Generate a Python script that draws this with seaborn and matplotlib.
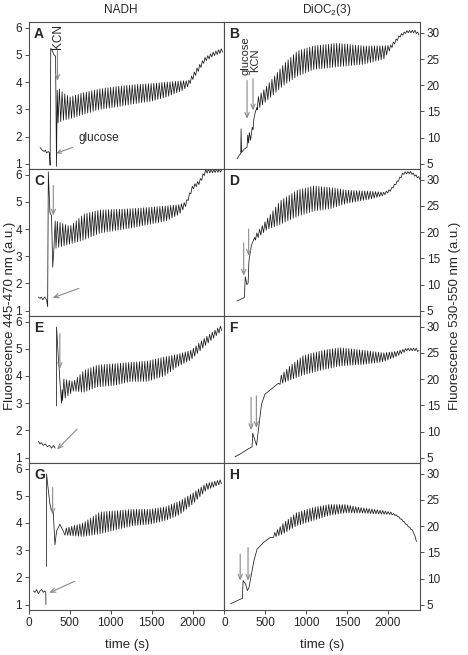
import numpy as np
import pandas as pd
import matplotlib
matplotlib.use("Agg")
import matplotlib.pyplot as plt
import seaborn as sns

# oscillation period (s)
PERIOD = 33

# ---- values ----
# each panel: hand-read start/transient points, then envelope (low / high) of the oscillating part
A_pre_t = [135, 160, 185, 200, 215, 235, 250, 258, 266, 285, 305, 325, 336, 345]
A_pre_y = [1.6, 1.5, 1.45, 1.5, 1.4, 1.45, 1.4, 0.95, 5.25, 5.15, 5.0, 4.95, 0.9, 3.7]
A_env_t = [355, 420, 500, 650, 866, 1100, 1270, 1500, 1680, 1880, 1950, 2050, 2150, 2250, 2370]
A_lo = [2.5, 2.6, 2.65, 2.8, 3.0, 3.1, 3.2, 3.3, 3.45, 3.7, 3.85, 4.3, 4.75, 4.95, 5.1]
A_hi = [3.8, 3.6, 3.45, 3.6, 3.75, 3.85, 3.9, 3.95, 4.0, 4.05, 4.05, 4.5, 4.9, 5.1, 5.25]

B_pre_t = [155, 180, 200, 204, 210, 240, 277, 285, 295, 305, 320, 340, 350, 360, 380, 400]
B_pre_y = [6.0, 6.6, 7.0, 11.7, 7.2, 7.8, 8.2, 10.5, 9.0, 11.0, 9.5, 12.0, 11.5, 13.5, 15.0, 15.8]
B_env_t = [400, 550, 725, 890, 1090, 1380, 1700, 1950, 2030, 2150, 2230, 2330, 2395]
B_lo = [15.3, 17.5, 20.0, 21.7, 23.0, 23.5, 24.0, 25.0, 26.8, 29.2, 30.0, 30.0, 29.4]
B_hi = [17.5, 20.5, 24.0, 26.5, 27.5, 28.0, 27.5, 27.5, 27.6, 29.7, 30.4, 30.5, 29.8]

C_pre_t = [115, 135, 150, 170, 190, 205, 215, 228, 236, 256, 275, 290, 305, 320]
C_pre_y = [1.5, 1.45, 1.5, 1.4, 1.5, 1.45, 1.4, 1.15, 6.1, 4.6, 4.5, 2.6, 3.3, 4.3]
C_env_t = [330, 500, 670, 866, 1270, 1680, 1840, 1920, 2000, 2085, 2160, 2370]
C_lo = [3.3, 3.45, 3.6, 3.85, 4.05, 4.3, 4.55, 4.85, 5.45, 5.65, 6.05, 6.1]
C_hi = [4.3, 4.1, 4.55, 4.7, 4.75, 4.85, 4.9, 5.0, 5.6, 5.8, 6.2, 6.2]

D_pre_t = [155, 200, 236, 245, 255, 275, 290, 300, 330, 370]
D_pre_y = [6.9, 7.2, 7.5, 7.6, 11.5, 10.0, 10.3, 14.5, 17.5, 19.0]
D_env_t = [380, 520, 685, 890, 1090, 1300, 1500, 1785, 1950, 2030, 2110, 2190, 2275, 2395]
D_lo = [18.5, 20.5, 21.5, 23.0, 24.0, 24.5, 25.5, 26.3, 27.0, 27.8, 29.3, 31.0, 31.2, 30.0]
D_hi = [19.5, 22.5, 26.0, 28.0, 28.8, 28.5, 28.0, 27.8, 27.6, 28.2, 29.7, 31.5, 31.6, 30.4]

E_base_t = [115, 135, 150, 175, 200, 225, 250, 275, 300, 320]
E_base_y = [1.6, 1.5, 1.55, 1.45, 1.5, 1.4, 1.45, 1.35, 1.45, 1.35]
E_pre_t = [337, 337, 358, 368, 378, 398, 405]
E_pre_y = [2.9, 5.8, 4.7, 4.3, 3.8, 3.0, 3.5]
E_env_t = [410, 545, 670, 835, 1040, 1245, 1450, 1655, 1820, 1985, 2150, 2370]
E_lo = [3.1, 3.45, 3.4, 3.6, 3.65, 3.8, 3.8, 4.0, 4.35, 4.6, 5.1, 5.7]
E_hi = [3.9, 3.8, 4.2, 4.4, 4.45, 4.5, 4.55, 4.7, 4.8, 4.95, 5.4, 5.9]

F_pre_t = [130, 200, 270, 338, 346, 372, 393, 454, 495, 597, 660]
F_pre_y = [5.2, 5.8, 6.5, 7.1, 9.7, 8.4, 7.4, 15.2, 17.1, 18.4, 19.2]
F_env_t = [680, 800, 965, 1210, 1415, 1700, 1945, 2105, 2230, 2350, 2395]
F_lo = [19.0, 19.8, 20.8, 21.8, 22.5, 22.8, 23.3, 24.3, 25.4, 25.4, 24.9]
F_hi = [20.5, 22.5, 24.5, 25.5, 26.0, 25.5, 25.0, 25.3, 25.9, 25.9, 25.2]

G_base_t = [53, 73, 93, 114, 134, 154, 175, 195, 205, 207]
G_base_y = [1.5, 1.45, 1.55, 1.4, 1.5, 1.55, 1.45, 1.5, 1.45, 1.0]
G_pre_t = [215, 215, 236, 256, 276, 297, 317, 337, 378, 419]
G_pre_y = [2.4, 5.8, 5.2, 4.7, 4.45, 4.4, 3.2, 3.7, 3.95, 3.7]
G_env_t = [440, 663, 866, 1069, 1272, 1476, 1679, 1841, 2004, 2167, 2360]
G_lo = [3.55, 3.5, 3.6, 3.75, 3.9, 3.95, 4.1, 4.3, 4.7, 5.2, 5.45]
G_hi = [3.8, 4.0, 4.4, 4.45, 4.5, 4.5, 4.6, 4.8, 5.1, 5.45, 5.6]

H_pre_t = [75, 120, 160, 200, 220, 229, 261, 281, 301, 361, 400, 480, 560]
H_pre_y = [5.2, 5.5, 5.8, 6.1, 6.2, 9.6, 8.9, 7.7, 8.3, 13.4, 15.6, 16.9, 17.8]
H_env_t = [600, 718, 878, 1077, 1276, 1475, 1673, 1872, 2031, 2110, 2190, 2310, 2350]
H_lo = [17.8, 18.5, 20.0, 21.0, 22.0, 22.5, 22.5, 22.3, 22.2, 21.9, 20.8, 18.9, 17.0]
H_hi = [18.5, 20.5, 22.5, 23.5, 24.1, 24.1, 23.5, 23.1, 22.7, 22.1, 21.0, 19.1, 17.2]

NADH_TICKS = [1, 2, 3, 4, 5, 6]
DIOC_TICKS = [5, 10, 15, 20, 25, 30]
TIME_TICKS = [0, 500, 1000, 1500, 2000]


def zigzag(t_env, lo, hi):
    # trace jumps between the low and high envelope every half period
    tt = np.arange(t_env[0], t_env[-1], PERIOD / 2)
    lo_i = np.interp(tt, t_env, lo)
    hi_i = np.interp(tt, t_env, hi)
    return tt, np.where(np.arange(len(tt)) % 2 == 0, lo_i, hi_i)


def build(pre_t, pre_y, env_t, lo, hi, base_t=None, base_y=None):
    zt, zv = zigzag(env_t, lo, hi)
    t = list(pre_t) + list(zt)
    v = list(pre_y) + list(zv)
    df = pd.DataFrame({"t": t, "v": v, "seg": 1})
    if base_t is not None:
        df = pd.concat([pd.DataFrame({"t": base_t, "v": base_y, "seg": 0}), df])
    return df


panels = {
    "A": build(A_pre_t, A_pre_y, A_env_t, A_lo, A_hi),
    "B": build(B_pre_t, B_pre_y, B_env_t, B_lo, B_hi),
    "C": build(C_pre_t, C_pre_y, C_env_t, C_lo, C_hi),
    "D": build(D_pre_t, D_pre_y, D_env_t, D_lo, D_hi),
    "E": build(E_pre_t, E_pre_y, E_env_t, E_lo, E_hi, E_base_t, E_base_y),
    "F": build(F_pre_t, F_pre_y, F_env_t, F_lo, F_hi),
    "G": build(G_pre_t, G_pre_y, G_env_t, G_lo, G_hi, G_base_t, G_base_y),
    "H": build(H_pre_t, H_pre_y, H_env_t, H_lo, H_hi),
}

# vertical addition arrows (x, y_start, y_end) and glucose pointers (tail -> tip)
down_arrows = {
    "A": [(348, 5.15, 4.05)],
    "B": [(277, 20.9, 13.6), (350, 21.2, 15.2)],
    "C": [(297, 5.6, 4.5)],
    "D": [(236, 18.0, 11.7), (297, 20.6, 15.5)],
    "E": [(377, 5.55, 4.26)],
    "F": [(326, 16.5, 10.3), (391, 16.8, 10.7)],
    "G": [(289, 5.3, 4.3)],
    "H": [(193, 14.6, 9.6), (289, 15.9, 9.6)],
}
glucose_ptr = {
    "C": ((610, 1.82), (289, 1.47)),
    "E": ((589, 2.05), (343, 1.30)),
    "G": ((561, 1.86), (248, 1.43)),
}

sns.set_style("ticks")
plt.rcParams["font.family"] = ["Liberation Sans", "DejaVu Sans"]
plt.rcParams["mathtext.fontset"] = "custom"
plt.rcParams["mathtext.rm"] = "Liberation Sans"

fig, axes = plt.subplots(4, 2, figsize=(4.68, 6.55), dpi=100, sharex=True)
plt.subplots_adjust(left=0.062, right=0.897, top=0.966, bottom=0.0687, hspace=0, wspace=0)

arrow_kw = dict(arrowstyle="->,head_length=0.35,head_width=0.15", color="#8a8a8a", lw=0.8,
                shrinkA=0, shrinkB=0)
spine_col = "#4d4d4d"

for i, letter in enumerate("ABCDEFGH"):
    ax = axes[i // 2, i % 2]
    sns.lineplot(data=panels[letter], x="t", y="v", units="seg", estimator=None, sort=False,
                 color="#1a1a1a", lw=0.55, ax=ax, legend=False)
    ax.set_xlim(0, 2390)
    ax.set_xticks(TIME_TICKS)
    if i % 2 == 0:
        ax.set_ylim(0.8, 6.2)
        ax.set_yticks(NADH_TICKS)
    else:
        ax.set_ylim(4, 32)
        ax.set_yticks(DIOC_TICKS)
        ax.yaxis.tick_right()
    ax.set_xlabel("")
    ax.set_ylabel("")
    for s in ax.spines.values():
        s.set_visible(True)
        s.set_color(spine_col)
        s.set_linewidth(0.8)
    ax.tick_params(axis="both", direction="out", length=3, width=0.7, color=spine_col,
                   labelsize=8.5, pad=2)
    ax.text(0.025, 0.965, letter, transform=ax.transAxes, ha="left", va="top",
            fontsize=10, fontweight="bold")
    for x, y0, y1 in down_arrows[letter]:
        ax.annotate("", xy=(x, y1), xytext=(x, y0), arrowprops=arrow_kw)
    if letter in glucose_ptr:
        tail, tip = glucose_ptr[letter]
        ax.annotate("", xy=tip, xytext=tail, arrowprops=arrow_kw)

# text labels of panel A and B
axA, axB = axes[0, 0], axes[0, 1]
axA.text(360, 5.2, "KCN", rotation=90, ha="center", va="bottom", fontsize=8.5)
axA.annotate("glucose", xy=(329, 1.38), xytext=(605, 1.95), ha="left", va="center",
             fontsize=8.5, arrowprops=dict(arrow_kw, shrinkA=2))
axB.text(262, 21.9, "glucose", rotation=90, ha="center", va="bottom", fontsize=8)
axB.text(372, 22.6, "KCN", rotation=90, ha="center", va="bottom", fontsize=8)

for ax in axes[3]:
    ax.set_xlabel("time (s)", fontsize=9.5, labelpad=7)

fig.text(0.257, 0.985, "NADH", ha="center", va="center", fontsize=8.5)
fig.text(0.698, 0.985, r"DiOC$_\mathregular{2}$(3)", ha="center", va="center", fontsize=8.5)
fig.text(0.022, 0.517, "Fluorescence 445-470 nm (a.u.)", rotation=90, ha="center",
         va="center", fontsize=9.5)
fig.text(0.972, 0.517, "Fluorescence 530-550 nm (a.u.)", rotation=90, ha="center",
         va="center", fontsize=9.5)

fig.savefig("out.png", dpi=100)
